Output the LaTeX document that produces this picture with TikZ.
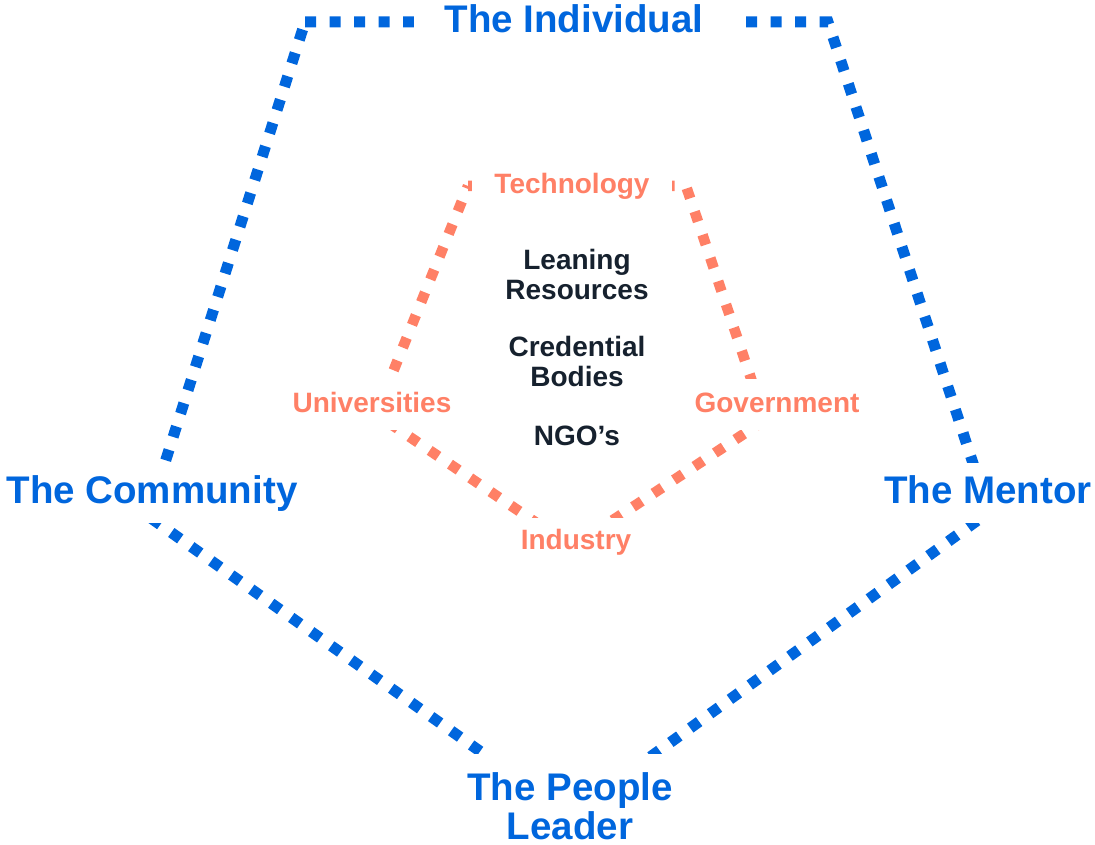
\documentclass[tikz,border=0pt]{standalone}
\usepackage{fontspec}
\setmainfont{Liberation Sans}
\definecolor{obl}{HTML}{0066DD}
\definecolor{ora}{HTML}{FF8066}
\definecolor{dk}{HTML}{16212E}
\begin{document}
\begin{tikzpicture}[x=1pt,y=-1pt,
  outerline/.style={draw=obl, line width=11pt, dash pattern=on 11pt off 13.5pt},
  innerline/.style={draw=ora, line width=10.5pt, dash pattern=on 10.5pt off 14pt},
  outerlab/.style={fill=white, text=obl, font=\fontsize{38.5}{39}\selectfont\bfseries,
    align=center, inner xsep=10pt, inner ysep=12pt},
  innerlab/.style={fill=white, text=ora, font=\fontsize{28}{30}\selectfont\bfseries,
    text height=21pt, text depth=6pt, inner xsep=8pt, inner ysep=12pt},
  centertext/.style={text=dk, font=\fontsize{28}{30}\selectfont\bfseries, align=center, inner sep=0pt}]
\useasboundingbox (0,0) rectangle (1095,845);
% outer pentagon corners
\coordinate (otl) at (305,22);
\coordinate (otr) at (828,22);
\coordinate (or) at (989,512);
\coordinate (ob) at (570,815);
\coordinate (ol) at (148,516);
% inner pentagon corners
\coordinate (itl) at (468,186);
\coordinate (itr) at (686,186);
\coordinate (ir) at (765,420);
\coordinate (ib) at (572,547);
\coordinate (il) at (376,414);
\draw[outerline] (otl) -- (otr) -- (or) -- (ob) -- (ol) -- cycle;
\draw[innerline] (itl) -- (itr) -- (ir) -- (ib) -- (il) -- cycle;
% outer labels
\node[outerlab, anchor=base, inner xsep=31pt, inner ysep=4pt] (indiv) at (574,33) {The Individual};
\node[outerlab, anchor=base, text height=28pt, text depth=8pt] (comm) at (152,503) {The Community};
\node[outerlab, anchor=base, text height=28pt, text depth=8pt] (ment) at (988,503) {The Mentor};
\node[outerlab, anchor=north, inner ysep=18pt] (lead) at (570,754) {The People\\Leader};
% inner labels
\node[innerlab, anchor=base, inner xsep=22pt, inner ysep=4pt] (tech) at (572,194) {Technology};
\node[innerlab, anchor=base] (univ) at (372,412) {Universities};
\node[innerlab, anchor=base] (gov) at (777,412) {Government};
\node[innerlab, anchor=base, inner ysep=10pt] (ind) at (576,549) {Industry};
% centre text
\node[centertext, anchor=north] (learn) at (577,249) {Leaning\\Resources};
\node[centertext, anchor=north] (cred) at (577,336.5) {Credential\\Bodies};
\node[centertext, anchor=base] (ngo) at (577,445) {NGO’s};
\end{tikzpicture}
\end{document}
